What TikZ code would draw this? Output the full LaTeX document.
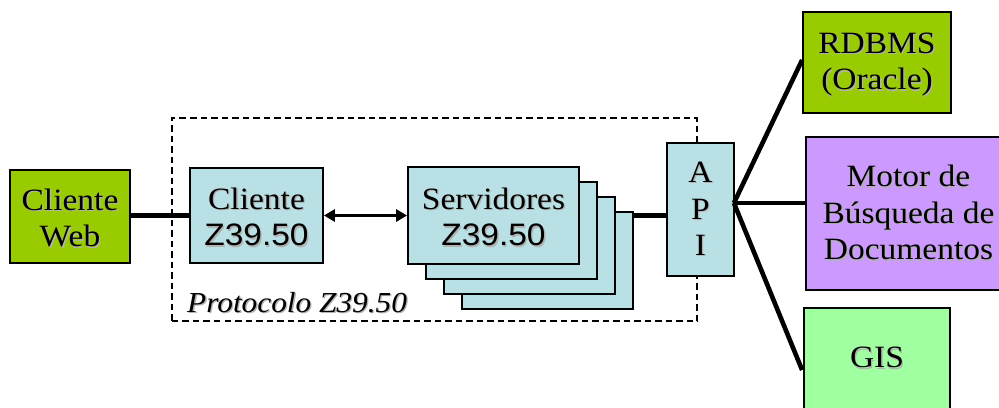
\documentclass[tikz,border=0pt]{standalone}
\usepackage{fontspec}
\setmainfont{Liberation Serif}[FakeStretch=1.08]
\newfontfamily\arialf{Liberation Sans}[FakeStretch=1.08]
\usetikzlibrary{arrows.meta,calc}

\definecolor{limeg}{RGB}{153,204,0}
\definecolor{paleblue}{RGB}{185,224,228}
\definecolor{lilac}{RGB}{204,153,255}
\definecolor{mintg}{RGB}{160,255,160}

% text with a soft grey drop shadow
\newcommand\tshadow[1]{\leavevmode\rlap{\kern1.3bp\raisebox{-1.3bp}{\color{black!30}#1}}#1}
\newcommand\boxfont{\fontsize{31bp}{36.5bp}\selectfont}
% taller first line, to sit two-line labels a little lower
\newcommand\toplift{\rule{0pt}{26bp}}

\tikzset{
  block/.style={draw=black, line width=1.8bp, inner sep=0pt, align=center,
                font=\boxfont},
  conn/.style={line width=4.6bp, line cap=butt},
  frame/.style={draw=black, line width=1.6bp, dash pattern=on 6.5bp off 4bp}
}

\begin{document}
\begin{tikzpicture}[x=1bp, y=-1bp]
  \useasboundingbox (0,0) rectangle (999,407);
  \clip (0,0) rectangle (999,407);

  % protocol frame
  \node[frame, inner sep=0pt, minimum width=525bp, minimum height=203bp]
    (proto) at (434.5,219.5) {};
  \node[anchor=base west, inner sep=0pt,
        font=\fontsize{29bp}{34bp}\selectfont\itshape]
    (plabel) at (187,312) {\tshadow{Protocolo Z39.50}};

  % clients
  \node[block, fill=limeg, minimum width=120bp, minimum height=93bp]
    (cweb) at (70,216.5) {\toplift\tshadow{Cliente}\\\tshadow{Web}};
  \node[block, fill=paleblue, minimum width=133bp, minimum height=95bp]
    (cz) at (256.5,215.5) {\toplift\tshadow{Cliente}\\\tshadow{\arialf Z39.50}};

  % stack of servers, back to front
  \node[block, fill=paleblue, minimum width=171bp, minimum height=97bp]
    (s4) at (547.5,260.5) {};
  \node[block, fill=paleblue, minimum width=171bp, minimum height=97bp]
    (s3) at (529.5,245.5) {};
  \node[block, fill=paleblue, minimum width=171bp, minimum height=97bp]
    (s2) at (511.5,230.5) {};
  \node[block, fill=paleblue, minimum width=171bp, minimum height=97bp]
    (s1) at (493.5,215.5) {\toplift\tshadow{Servidores}\\\tshadow{\arialf Z39.50}};

  % API column
  \node[block, fill=paleblue, minimum width=67bp, minimum height=133bp]
    (api) at (700.5,209.5) {\tshadow{A}\\\tshadow{P}\\\tshadow{I}};

  % back ends
  \node[block, fill=limeg, minimum width=148bp, minimum height=101bp]
    (rdbms) at (877,62.5) {\toplift\tshadow{RDBMS}\\\tshadow{(Oracle)}};
  \node[block, fill=lilac, minimum width=205bp, minimum height=153bp]
    (motor) at (908.5,213.5)
    {\tshadow{Motor de}\\\tshadow{Búsqueda de}\\\tshadow{Documentos}};
  \node[block, fill=mintg, minimum width=146bp, minimum height=101bp]
    (gis) at (877,358.5) {\tshadow{GIS}};

  % connectors
  \draw[conn] (cz.west -| cweb.east) -- (cz.west);
  \draw[line width=3.6bp, {Triangle[length=11bp,width=12bp]}-{Triangle[length=11bp,width=12bp]}]
    (cz.east) -- (s1.west);
  \draw[conn] (s1.east -| s4.east) -- (s1.east -| api.west);

  \coordinate (port) at ($(api.east)+(-1,-6.5)$);
  \coordinate (gisin) at ($(gis.west)+(-1,11.5)$);
  \coordinate (rdbin) at ($(rdbms.west)+(0,-2.5)$);
  \draw[conn] (port) -- (rdbin);
  \draw[conn] (port) -- (port -| motor.west);
  \draw[conn] (port) -- (gisin);
\end{tikzpicture}
\end{document}
